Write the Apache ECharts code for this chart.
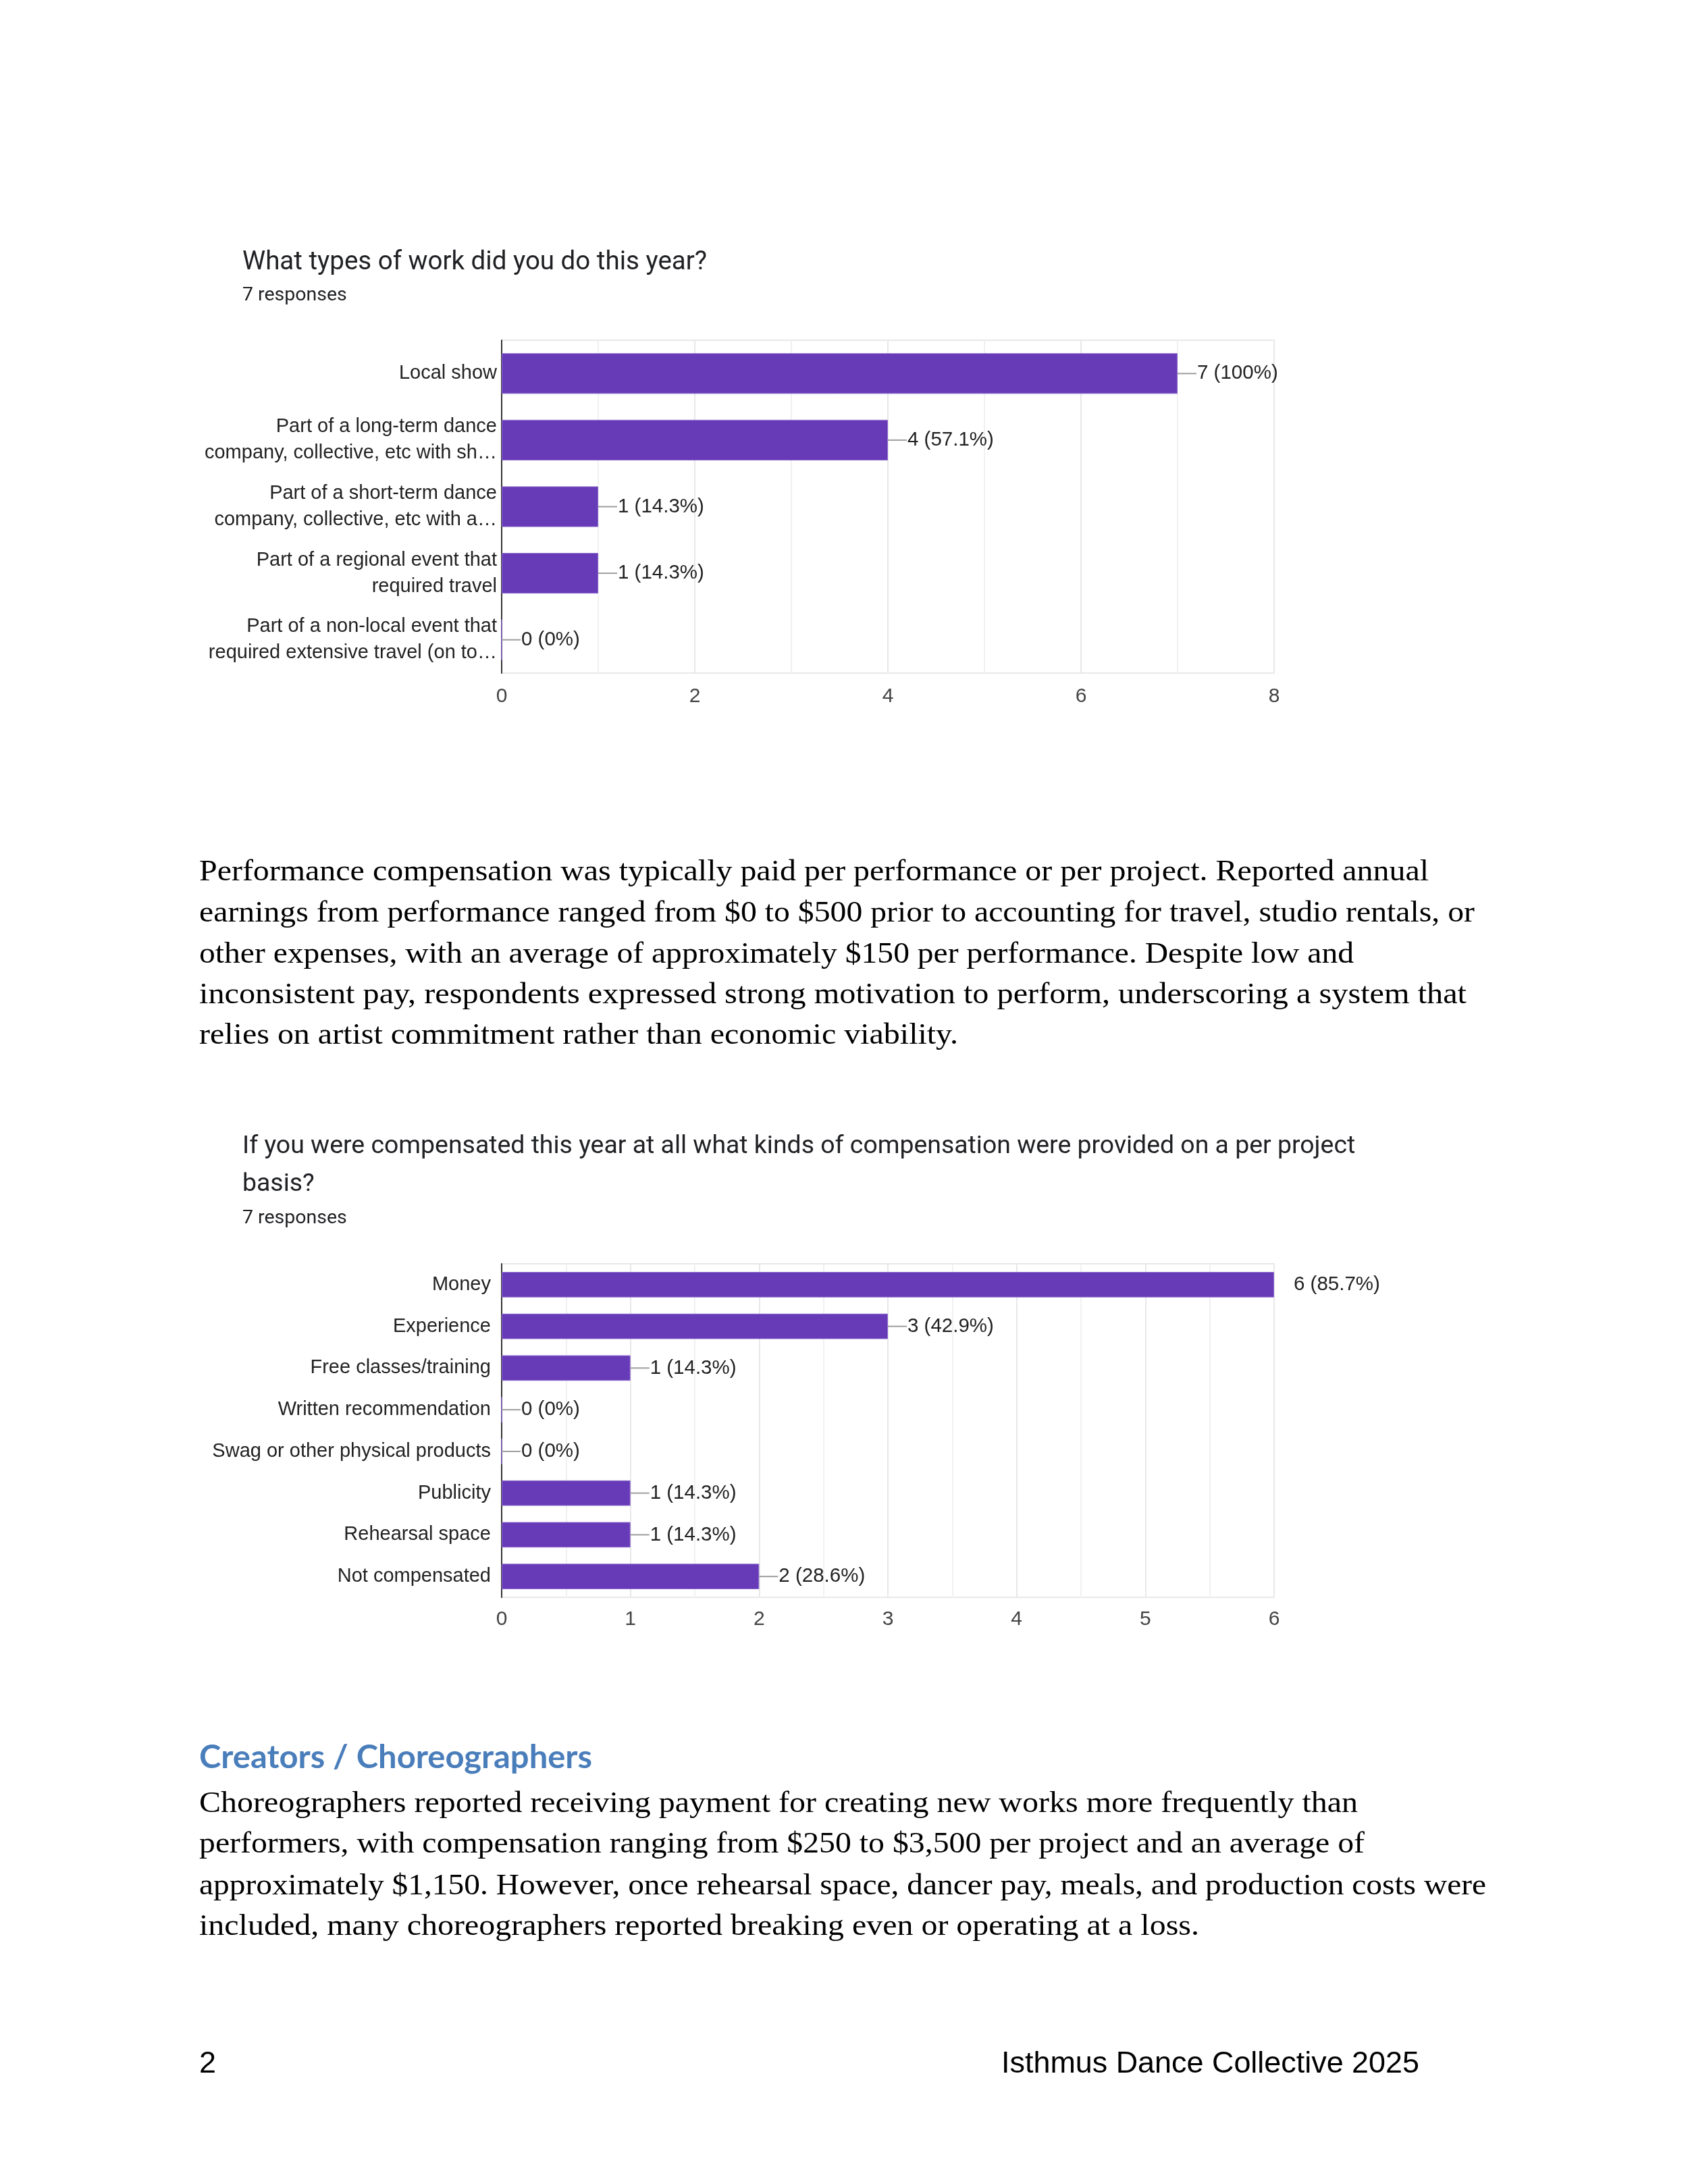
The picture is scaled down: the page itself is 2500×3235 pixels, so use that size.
<!DOCTYPE html>
<html>
<head>
<meta charset="utf-8">
<script src="https://cdn.jsdelivr.net/npm/echarts@6/dist/echarts.min.js"></script>
<style>
  html, body { margin:0; padding:0; background:#fff; }
  #page { position:relative; width:2500px; height:3235px; overflow:hidden; background:#fff; }
  #chart { position:absolute; left:0; top:0; width:2500px; height:3235px; }
  .ln { position:absolute; white-space:nowrap; transform-origin:0 50%; }
  .body { font-family:"Liberation Serif", serif; font-size:45px; color:#000; }
  .head { font-family:"Lato", "Open Sans", sans-serif; font-weight:700; font-size:47px; color:#4a7ebb; }
  .foot { font-family:"Liberation Sans", Arial, sans-serif; font-size:45px; color:#000; }
</style>
</head>
<body>
<div id="page">
  <div id="chart"></div>
  <div id="text"></div>
</div>
<script>
// ---------- data ----------
const responses = 7;
const chart1Title = 'What types of work did you do this year?';
const chart1Categories = [
  'Local show',
  'Part of a long-term dance\ncompany, collective, etc with sh\u2026',
  'Part of a short-term dance\ncompany, collective, etc with a\u2026',
  'Part of a regional event that\nrequired travel',
  'Part of a non-local event that\nrequired extensive travel (on to\u2026'
];
const chart1Values = [7, 4, 1, 1, 0];
const chart1Max = 8;
const chart1TickStep = 2;

const chart2Title = 'If you were compensated this year at all what kinds of compensation were provided on a per project\nbasis?';
const chart2Categories = [
  'Money',
  'Experience',
  'Free classes/training',
  'Written recommendation',
  'Swag or other physical products',
  'Publicity',
  'Rehearsal space',
  'Not compensated'
];
const chart2Values = [6, 3, 1, 0, 0, 1, 1, 2];
const chart2Max = 6;
const chart2TickStep = 1;

const subtitleText = responses + ' responses';

// ---------- styles ----------
const PURPLE = '#673ab7';
const LABEL_FONT = '"Liberation Sans", Arial, sans-serif';
const TITLE_FONT = 'Roboto, "Liberation Sans", sans-serif';

function pctText(v) {
  const p = Math.round(v / responses * 1000) / 10;
  return v + ' (' + p + '%)';
}

function labelItem(params, api) {
  const v = api.value(0);
  const p = api.coord([v, api.value(1)]);
  const cs = params.coordSys;
  const right = cs.x + cs.width;
  const end = Math.min(p[0] + 28, right);
  return {
    type: 'group',
    children: [
      { type: 'line', shape: { x1: p[0], y1: p[1], x2: end, y2: p[1] },
        style: { stroke: '#9e9e9e', lineWidth: 2 } },
      { type: 'text', style: { x: p[0] + 29, y: p[1], text: pctText(v),
        font: '29.5px ' + LABEL_FONT, fill: '#222', verticalAlign: 'middle', align: 'left' } }
    ]
  };
}

function xAxisFor(grid, max, step, labelMargin) {
  return {
    type: 'value', gridIndex: grid, min: 0, max: max, interval: step,
    axisLine: { show: false }, axisTick: { show: false },
    axisLabel: { color: '#444', fontSize: 30, fontFamily: LABEL_FONT, margin: labelMargin },
    splitLine: { show: true, lineStyle: { color: '#e8e8e8', width: 2 } },
    minorTick: { show: false, splitNumber: 2 },
    minorSplitLine: { show: true, lineStyle: { color: '#f1f1f1', width: 2 } }
  };
}
function yAxisFor(grid, cats, margin) {
  return {
    type: 'category', gridIndex: grid, data: cats, inverse: true,
    axisLine: { show: true, lineStyle: { color: '#333', width: 2 } },
    axisTick: { show: false },
    axisLabel: { color: '#222', fontSize: 29, fontFamily: LABEL_FONT, lineHeight: 39, margin: margin }
  };
}

const chart = echarts.init(document.getElementById('chart'), null, { renderer: 'canvas' });
chart.setOption({
  animation: false,
  backgroundColor: '#fff',
  title: [
    { text: chart1Title, left: 359, top: 389 - 25, padding: 0,
      textStyle: { fontFamily: TITLE_FONT, fontSize: 38.5, fontWeight: 'normal', color: '#202124', lineHeight: 50 } },
    { text: subtitleText, left: 359, top: 438 - 19, padding: 0,
      textStyle: { fontFamily: TITLE_FONT, fontSize: 28.5, fontWeight: 'normal', color: '#202124', lineHeight: 38 } },
    { text: chart2Title, left: 359, top: 1699 - 28, padding: 0,
      textStyle: { fontFamily: TITLE_FONT, fontSize: 37.4, fontWeight: 'normal', color: '#202124', lineHeight: 56 } },
    { text: subtitleText, left: 359, top: 1805 - 19, padding: 0,
      textStyle: { fontFamily: TITLE_FONT, fontSize: 28.5, fontWeight: 'normal', color: '#202124', lineHeight: 38 } }
  ],
  grid: [
    { left: 743, top: 504, width: 1144, height: 493, show: true, borderColor: '#e8e8e8', borderWidth: 2, containLabel: false },
    { left: 743, top: 1872, width: 1144, height: 494, show: true, borderColor: '#e8e8e8', borderWidth: 2, containLabel: false }
  ],
  xAxis: [ xAxisFor(0, chart1Max, chart1TickStep, 20), xAxisFor(1, chart2Max, chart2TickStep, 18) ],
  yAxis: [ yAxisFor(0, chart1Categories, 7), yAxisFor(1, chart2Categories, 16) ],
  series: [
    { type: 'bar', xAxisIndex: 0, yAxisIndex: 0, data: chart1Values, barCategoryGap: '39%',
      itemStyle: { color: PURPLE, borderColor: '#8c6bcc', borderWidth: 1 }, silent: true },
    { type: 'custom', xAxisIndex: 0, yAxisIndex: 0, renderItem: labelItem, z: 5, silent: true,
      encode: { x: 0, y: 1 }, data: chart1Values.map((v, i) => [v, i]) },
    { type: 'bar', xAxisIndex: 1, yAxisIndex: 1, data: chart2Values, barCategoryGap: '39%',
      itemStyle: { color: PURPLE, borderColor: '#8c6bcc', borderWidth: 1 }, silent: true },
    { type: 'custom', xAxisIndex: 1, yAxisIndex: 1, renderItem: labelItem, z: 5, silent: true,
      encode: { x: 0, y: 1 }, data: chart2Values.map((v, i) => [v, i]) }
  ]
});

// ---------- page text ----------
const textLines = [
  // [class, text, left, centerY, targetWidth]
  ['body', 'Performance compensation was typically paid per performance or per project. Reported annual', 295, 1289, 1821],
  ['body', 'earnings from performance ranged from $0 to $500 prior to accounting for travel, studio rentals, or', 295, 1350, 1889],
  ['body', 'other expenses, with an average of approximately $150 per performance. Despite low and', 295, 1411, 1710],
  ['body', 'inconsistent pay, respondents expressed strong motivation to perform, underscoring a system that', 295, 1471, 1877],
  ['body', 'relies on artist commitment rather than economic viability.', 295, 1531, 1124],
  ['head', 'Creators / Choreographers', 295, 2601, 582],
  ['body', 'Choreographers reported receiving payment for creating new works more frequently than', 295, 2669, 1716],
  ['body', 'performers, with compensation ranging from $250 to $3,500 per project and an average of', 295, 2729, 1726],
  ['body', 'approximately $1,150. However, once rehearsal space, dancer pay, meals, and production costs were', 295, 2791, 1906],
  ['body', 'included, many choreographers reported breaking even or operating at a loss.', 295, 2851, 1481],
  ['foot', '2', 295, 3055, 0],
  ['foot', 'Isthmus Dance Collective 2025', 1483, 3055, 619]
];
const holder = document.getElementById('text');
textLines.forEach(([cls, txt, x, cy, tw]) => {
  const d = document.createElement('div');
  d.className = 'ln ' + cls;
  d.textContent = txt;
  d.style.left = x + 'px';
  d.style.top = (cy - 40) + 'px';
  d.style.height = '80px';
  d.style.lineHeight = '80px';
  holder.appendChild(d);
  if (tw > 0) {
    const w = d.getBoundingClientRect().width;
    if (w > 0) d.style.transform = 'scaleX(' + (tw / w) + ')';
  }
});
</script>
</body>
</html>
